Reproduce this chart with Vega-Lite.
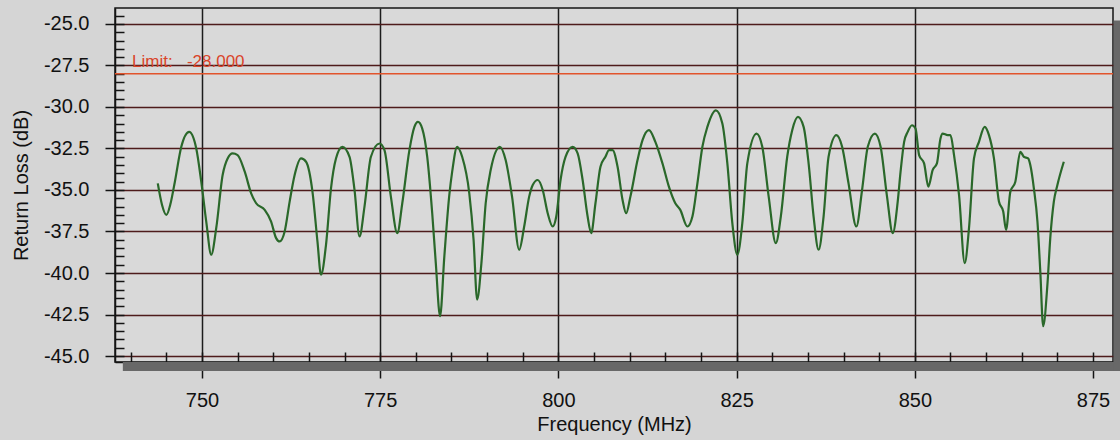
{
  "$schema": "https://vega.github.io/schema/vega-lite/v6.json",
  "width": 998,
  "height": 354,
  "autosize": "none",
  "padding": {"left": 115, "top": 8, "right": 7, "bottom": 78},
  "background": "#d5d5d5",
  "config": {
    "view": {"fill": "#d9d9d9", "stroke": "#141414", "strokeWidth": 1.5},
    "font": "Liberation Sans"
  },
  "resolve": {"axis": {"x": "independent", "y": "independent"}},
  "layer": [
    {
      "data": {
        "values": [
          {"f": 743.8, "rl": -34.6}, {"f": 744.4, "rl": -35.9}, {"f": 745.0, "rl": -36.5}, {"f": 745.6, "rl": -35.8},
          {"f": 746.2, "rl": -34.5}, {"f": 747.1, "rl": -32.4}, {"f": 748.2, "rl": -31.5}, {"f": 749.2, "rl": -32.5},
          {"f": 749.9, "rl": -34.5}, {"f": 750.6, "rl": -36.9}, {"f": 751.3, "rl": -38.9}, {"f": 752.0, "rl": -37.3},
          {"f": 752.9, "rl": -34.1}, {"f": 753.6, "rl": -33.1}, {"f": 754.3, "rl": -32.8}, {"f": 755.0, "rl": -32.9},
          {"f": 756.0, "rl": -33.9}, {"f": 756.9, "rl": -35.2}, {"f": 757.6, "rl": -35.8}, {"f": 758.8, "rl": -36.2},
          {"f": 759.7, "rl": -36.9}, {"f": 760.4, "rl": -37.9}, {"f": 760.9, "rl": -38.1}, {"f": 761.6, "rl": -37.5},
          {"f": 762.3, "rl": -35.7}, {"f": 763.0, "rl": -34.1}, {"f": 763.9, "rl": -33.1}, {"f": 764.6, "rl": -33.3},
          {"f": 765.5, "rl": -35.1}, {"f": 766.2, "rl": -38.1}, {"f": 766.7, "rl": -40.1}, {"f": 767.4, "rl": -38.3},
          {"f": 768.1, "rl": -34.9}, {"f": 768.8, "rl": -33.1}, {"f": 769.7, "rl": -32.4}, {"f": 770.7, "rl": -33.0},
          {"f": 771.4, "rl": -35.0}, {"f": 772.1, "rl": -37.8}, {"f": 772.8, "rl": -36.0}, {"f": 773.7, "rl": -33.0},
          {"f": 774.9, "rl": -32.2}, {"f": 775.6, "rl": -32.6}, {"f": 776.5, "rl": -35.4}, {"f": 777.4, "rl": -37.6},
          {"f": 778.1, "rl": -35.8}, {"f": 779.1, "rl": -32.6}, {"f": 779.8, "rl": -31.2}, {"f": 780.3, "rl": -30.9},
          {"f": 780.9, "rl": -31.3}, {"f": 781.6, "rl": -33.0}, {"f": 782.3, "rl": -36.4}, {"f": 782.8, "rl": -39.4},
          {"f": 783.4, "rl": -42.6}, {"f": 784.0, "rl": -39.0}, {"f": 784.7, "rl": -35.3}, {"f": 785.1, "rl": -33.9},
          {"f": 785.8, "rl": -32.4}, {"f": 786.5, "rl": -33.0}, {"f": 787.5, "rl": -35.2}, {"f": 788.1, "rl": -38.0},
          {"f": 788.6, "rl": -41.6}, {"f": 789.2, "rl": -39.4}, {"f": 789.8, "rl": -35.8}, {"f": 790.5, "rl": -33.8},
          {"f": 791.8, "rl": -32.4}, {"f": 792.6, "rl": -33.2}, {"f": 793.5, "rl": -35.4}, {"f": 794.5, "rl": -38.6},
          {"f": 795.2, "rl": -37.2}, {"f": 795.9, "rl": -35.4}, {"f": 796.4, "rl": -34.7}, {"f": 797.1, "rl": -34.4},
          {"f": 797.8, "rl": -35.0}, {"f": 798.5, "rl": -36.4}, {"f": 799.2, "rl": -37.2}, {"f": 799.7, "rl": -36.6},
          {"f": 800.3, "rl": -34.4}, {"f": 801.0, "rl": -33.0}, {"f": 802.0, "rl": -32.4}, {"f": 802.7, "rl": -32.8},
          {"f": 803.4, "rl": -34.4}, {"f": 804.1, "rl": -36.6}, {"f": 804.6, "rl": -37.6}, {"f": 805.2, "rl": -35.8},
          {"f": 805.9, "rl": -33.6}, {"f": 806.6, "rl": -33.0}, {"f": 807.1, "rl": -32.6}, {"f": 807.6, "rl": -32.6},
          {"f": 808.3, "rl": -33.6}, {"f": 809.0, "rl": -35.6}, {"f": 809.5, "rl": -36.4}, {"f": 810.1, "rl": -35.4},
          {"f": 811.1, "rl": -33.2}, {"f": 811.8, "rl": -32.0}, {"f": 812.7, "rl": -31.4}, {"f": 813.6, "rl": -32.1},
          {"f": 814.6, "rl": -33.4}, {"f": 815.5, "rl": -34.8}, {"f": 816.4, "rl": -35.8}, {"f": 817.1, "rl": -36.2},
          {"f": 818.1, "rl": -37.2}, {"f": 818.8, "rl": -36.6}, {"f": 819.5, "rl": -34.6}, {"f": 820.2, "rl": -32.4},
          {"f": 820.9, "rl": -31.2}, {"f": 822.1, "rl": -30.2}, {"f": 823.0, "rl": -31.0}, {"f": 823.7, "rl": -33.4},
          {"f": 824.4, "rl": -37.0}, {"f": 825.1, "rl": -38.9}, {"f": 825.8, "rl": -37.0}, {"f": 826.5, "rl": -33.4},
          {"f": 827.8, "rl": -31.6}, {"f": 828.6, "rl": -32.4}, {"f": 829.5, "rl": -35.4}, {"f": 830.5, "rl": -38.2},
          {"f": 831.2, "rl": -36.6}, {"f": 832.1, "rl": -33.0}, {"f": 832.8, "rl": -31.4}, {"f": 833.6, "rl": -30.6},
          {"f": 834.4, "rl": -31.2}, {"f": 835.1, "rl": -33.4}, {"f": 835.8, "rl": -36.6}, {"f": 836.5, "rl": -38.6},
          {"f": 837.2, "rl": -36.6}, {"f": 837.9, "rl": -33.0}, {"f": 839.0, "rl": -31.7}, {"f": 839.8, "rl": -32.4},
          {"f": 840.7, "rl": -34.6}, {"f": 841.8, "rl": -37.2}, {"f": 842.6, "rl": -35.0}, {"f": 843.4, "rl": -32.4},
          {"f": 844.4, "rl": -31.6}, {"f": 845.2, "rl": -32.4}, {"f": 846.1, "rl": -35.4}, {"f": 846.9, "rl": -37.6},
          {"f": 847.6, "rl": -35.7}, {"f": 848.0, "rl": -33.9}, {"f": 848.5, "rl": -32.1}, {"f": 849.0, "rl": -31.5},
          {"f": 849.6, "rl": -31.1}, {"f": 850.1, "rl": -31.3}, {"f": 850.6, "rl": -32.9}, {"f": 851.3, "rl": -33.4},
          {"f": 851.9, "rl": -34.8}, {"f": 852.5, "rl": -33.8}, {"f": 853.1, "rl": -33.4}, {"f": 853.6, "rl": -31.9},
          {"f": 853.9, "rl": -31.6}, {"f": 854.6, "rl": -31.7}, {"f": 855.0, "rl": -31.7}, {"f": 855.5, "rl": -32.9},
          {"f": 856.2, "rl": -35.3}, {"f": 857.0, "rl": -39.4}, {"f": 857.6, "rl": -37.3}, {"f": 858.3, "rl": -33.1},
          {"f": 859.0, "rl": -32.1}, {"f": 859.8, "rl": -31.2}, {"f": 860.4, "rl": -31.7}, {"f": 861.1, "rl": -33.1},
          {"f": 861.8, "rl": -35.7}, {"f": 862.4, "rl": -36.3}, {"f": 862.8, "rl": -37.4}, {"f": 863.4, "rl": -35.1},
          {"f": 864.1, "rl": -34.5}, {"f": 864.8, "rl": -32.7}, {"f": 865.3, "rl": -33.0}, {"f": 865.9, "rl": -33.1},
          {"f": 866.2, "rl": -33.5}, {"f": 866.7, "rl": -34.9}, {"f": 867.2, "rl": -36.9}, {"f": 867.6, "rl": -39.9},
          {"f": 868.0, "rl": -43.2}, {"f": 868.6, "rl": -40.7}, {"f": 869.0, "rl": -37.9}, {"f": 869.5, "rl": -35.7},
          {"f": 870.0, "rl": -34.7}, {"f": 870.9, "rl": -33.3}
        ]
      },
      "mark": {"type": "line", "interpolate": "monotone", "color": "#2a682a", "strokeWidth": 2.2},
      "encoding": {
        "x": {
          "field": "f",
          "type": "quantitative",
          "scale": {"domain": [737.8, 877.8], "nice": false, "zero": false},
          "axis": {
            "orient": "bottom",
            "title": "Frequency (MHz)",
            "values": [750, 775, 800, 825, 850, 875],
            "tickCount": 200,
            "format": "d",
            "labelFlush": false,
            "labelOverlap": false,
            "labelBound": false,
            "labelFontSize": 20,
            "labelColor": "#111111",
            "labelPadding": 12,
            "grid": true,
            "gridColor": "#1c1c1c",
            "gridWidth": 1.5,
            "gridOpacity": {"condition": {"test": "datum.value <= 850", "value": 1}, "value": 0},
            "tickColor": "#141414",
            "tickWidth": 1.5,
            "tickSize": 16,
            "domainColor": "#141414",
            "domainWidth": 1.5,
            "titleFontSize": 20,
            "titleFontWeight": "normal",
            "titleColor": "#111111",
            "titlePadding": 4
          }
        },
        "y": {
          "field": "rl",
          "type": "quantitative",
          "scale": {"domain": [-45.36, -24.04], "nice": false, "zero": false},
          "axis": {
            "orient": "left",
            "title": "Return Loss (dB)",
            "values": [-45, -42.5, -40, -37.5, -35, -32.5, -30, -27.5, -25],
            "tickCount": 200,
            "labelExpr": "(datum.value < 0 ? '-' : '') + format(abs(datum.value), '.1f')",
            "labelOverlap": false,
            "labelBound": false,
            "labelFontSize": 20,
            "labelColor": "#111111",
            "labelPadding": 16,
            "grid": true,
            "gridColor": "#4e1b1b",
            "gridWidth": 1.6,
            "tickColor": "#141414",
            "tickWidth": 1.5,
            "tickSize": 10,
            "domainColor": "#141414",
            "domainWidth": 1.5,
            "titleFontSize": 20,
            "titleFontWeight": "normal",
            "titleColor": "#111111",
            "titlePadding": 12
          }
        }
      }
    },
    {
      "data": {"values": [{}]},
      "mark": {"type": "rule", "color": "#e2542c", "strokeWidth": 1.3},
      "encoding": {
        "x": {
          "datum": 737.8,
          "type": "quantitative",
          "axis": {
            "orient": "top",
            "offset": -354,
            "title": null,
            "values": [740, 745, 750, 755, 760, 765, 770, 775, 780, 785, 790, 795, 800, 805, 810, 815, 820, 825, 830, 835, 840, 845, 850, 855, 860, 865, 870, 875],
            "tickCount": 200,
            "labels": false,
            "grid": false,
            "domain": false,
            "tickColor": "#141414",
            "tickWidth": 1.5,
            "tickSize": 10
          }
        },
        "x2": {"datum": 877.8},
        "y": {
          "datum": -28,
          "type": "quantitative",
          "axis": {
            "orient": "right",
            "offset": -998,
            "title": null,
            "values": [-45, -44.5, -44, -43.5, -43, -42.5, -42, -41.5, -41, -40.5, -40, -39.5, -39, -38.5, -38, -37.5, -37, -36.5, -36, -35.5, -35, -34.5, -34, -33.5, -33, -32.5, -32, -31.5, -31, -30.5, -30, -29.5, -29, -28.5, -28, -27.5, -27, -26.5, -26, -25.5, -25, -24.5],
            "tickCount": 200,
            "labels": false,
            "grid": false,
            "domain": false,
            "tickColor": "#141414",
            "tickWidth": 1.5,
            "tickSize": 9
          }
        }
      }
    },
    {
      "data": {"values": [{}]},
      "mark": {"type": "rect", "color": "#686868"},
      "encoding": {
        "x": {"datum": 738.9, "type": "quantitative", "axis": null},
        "x2": {"datum": 879.5},
        "y": {"datum": -45.36, "type": "quantitative", "axis": null},
        "y2": {"datum": -45.9}
      }
    },
    {
      "data": {"values": [{}]},
      "mark": {"type": "rect", "color": "#686868"},
      "encoding": {
        "x": {"datum": 877.9, "type": "quantitative", "axis": null},
        "x2": {"datum": 879.5},
        "y": {"datum": -24.8, "type": "quantitative", "axis": null},
        "y2": {"datum": -45.9}
      }
    },
    {
      "data": {"values": [{}]},
      "mark": {"type": "text", "text": "Limit:\u00a0\u00a0\u00a0-28.000", "align": "left", "baseline": "middle", "fontSize": 17, "color": "#d9442a"},
      "encoding": {
        "x": {"datum": 740.2, "type": "quantitative", "axis": null},
        "y": {"datum": -27.3, "type": "quantitative", "axis": null}
      }
    }
  ]
}
